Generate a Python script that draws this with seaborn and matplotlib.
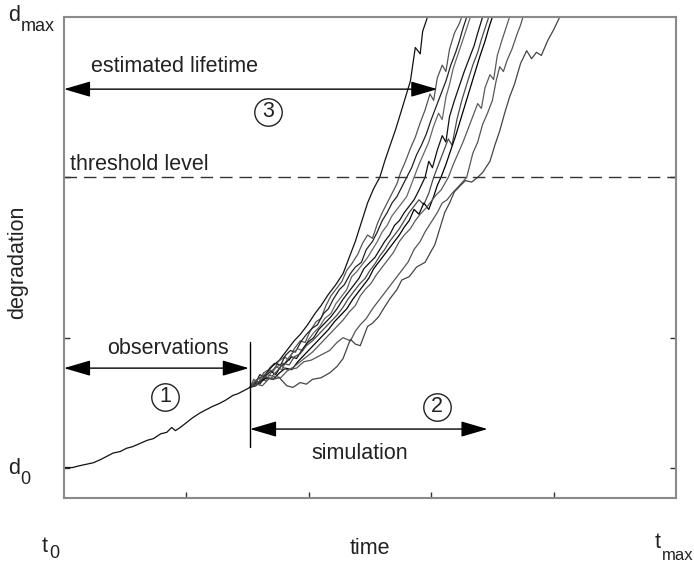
import numpy as np
import pandas as pd
import matplotlib
matplotlib.use("Agg")
import matplotlib.pyplot as plt
import seaborn as sns

# ---------------- data (time in t0..tmax = 0..5, degradation d0..dmax scale 0..3) -------------
obs_t = [0.00, 0.07, 0.12, 0.18, 0.24, 0.30, 0.35, 0.40, 0.46, 0.51, 0.56, 0.62, 0.68, 0.73,
         0.79, 0.84, 0.88, 0.91, 0.95, 1.00, 1.05, 1.11, 1.16, 1.21, 1.27, 1.32, 1.38, 1.42,
         1.47, 1.52]
obs_d = [0.19, 0.19, 0.20, 0.21, 0.22, 0.24, 0.26, 0.28, 0.29, 0.31, 0.32, 0.34, 0.36, 0.37,
         0.40, 0.41, 0.44, 0.42, 0.44, 0.47, 0.50, 0.53, 0.55, 0.57, 0.59, 0.61, 0.64, 0.65,
         0.67, 0.69]

sim1 = [(1.52, 0.69), (1.58, 0.74), (1.63, 0.76), (1.70, 0.82), (1.76, 0.86), (1.82, 0.92),
        (1.88, 0.98), (1.93, 1.02), (1.99, 1.08), (2.05, 1.15), (2.10, 1.20), (2.16, 1.27),
        (2.22, 1.33), (2.28, 1.40), (2.33, 1.50), (2.38, 1.60), (2.43, 1.72), (2.48, 1.84),
        (2.53, 1.93), (2.58, 2.00), (2.62, 2.10), (2.66, 2.19), (2.71, 2.30), (2.75, 2.40),
        (2.79, 2.50), (2.83, 2.60), (2.87, 2.81), (2.91, 2.77), (2.93, 2.91), (2.97, 3.00),
        (2.99, 3.10)]
sim2 = [(1.52, 0.69), (1.55, 0.74), (1.59, 0.72), (1.63, 0.78), (1.67, 0.80), (1.71, 0.79),
        (1.75, 0.85), (1.80, 0.88), (1.84, 0.86), (1.88, 0.93), (1.93, 0.98), (1.97, 0.97),
        (2.01, 1.04), (2.06, 1.10), (2.10, 1.12), (2.14, 1.20), (2.18, 1.26), (2.23, 1.31),
        (2.27, 1.35), (2.31, 1.42), (2.35, 1.46), (2.40, 1.52), (2.44, 1.59), (2.48, 1.64),
        (2.52, 1.62), (2.56, 1.71), (2.60, 1.78), (2.64, 1.84), (2.68, 1.90), (2.72, 1.96),
        (2.75, 2.03), (2.79, 2.10), (2.83, 2.18), (2.87, 2.25), (2.91, 2.34), (2.95, 2.42),
        (2.99, 2.52), (3.02, 2.48), (3.05, 2.62), (3.09, 2.70), (3.12, 2.66), (3.15, 2.80),
        (3.19, 2.90), (3.23, 2.96), (3.26, 3.02), (3.28, 3.10)]
sim3 = [(1.52, 0.69), (1.56, 0.71), (1.60, 0.77), (1.64, 0.75), (1.68, 0.81), (1.72, 0.84),
        (1.77, 0.83), (1.81, 0.89), (1.85, 0.92), (1.89, 0.91), (1.94, 0.98), (1.98, 1.02),
        (2.03, 1.06), (2.07, 1.08), (2.12, 1.15), (2.16, 1.18), (2.20, 1.24), (2.25, 1.30),
        (2.29, 1.33), (2.34, 1.40), (2.38, 1.44), (2.43, 1.47), (2.47, 1.55), (2.52, 1.60),
        (2.56, 1.66), (2.60, 1.73), (2.64, 1.78), (2.68, 1.84), (2.72, 1.88), (2.76, 1.94),
        (2.80, 2.00), (2.84, 2.06), (2.88, 2.14), (2.92, 2.20), (2.96, 2.27), (3.00, 2.36),
        (3.04, 2.44), (3.08, 2.52), (3.12, 2.60), (3.16, 2.70), (3.20, 2.78), (3.23, 2.85),
        (3.26, 2.93), (3.29, 3.00), (3.31, 3.10)]
sim4 = [(1.52, 0.69), (1.57, 0.70), (1.61, 0.74), (1.65, 0.73), (1.69, 0.78), (1.73, 0.82),
        (1.78, 0.80), (1.82, 0.86), (1.86, 0.90), (1.91, 0.93), (1.95, 0.92), (2.00, 0.99),
        (2.04, 1.03), (2.09, 1.07), (2.13, 1.12), (2.18, 1.15), (2.22, 1.21), (2.26, 1.25),
        (2.31, 1.30), (2.35, 1.38), (2.39, 1.41), (2.44, 1.46), (2.48, 1.50), (2.52, 1.55),
        (2.56, 1.60), (2.60, 1.66), (2.64, 1.70), (2.68, 1.76), (2.72, 1.80), (2.76, 1.84),
        (2.80, 1.88), (2.83, 1.94), (2.86, 2.00), (2.90, 2.08), (2.94, 2.15), (2.98, 2.22),
        (3.02, 2.32), (3.06, 2.40), (3.09, 2.36), (3.12, 2.50), (3.15, 2.58), (3.18, 2.68),
        (3.22, 2.77), (3.26, 2.86), (3.29, 2.93), (3.32, 3.00), (3.34, 3.10)]
sim5 = [(1.52, 0.69), (1.56, 0.72), (1.60, 0.71), (1.64, 0.76), (1.69, 0.79), (1.73, 0.77),
        (1.77, 0.82), (1.82, 0.85), (1.86, 0.88), (1.90, 0.87), (1.95, 0.93), (1.99, 0.97),
        (2.04, 1.00), (2.08, 1.05), (2.13, 1.09), (2.18, 1.13), (2.23, 1.18), (2.28, 1.24),
        (2.32, 1.28), (2.37, 1.33), (2.41, 1.37), (2.45, 1.43), (2.50, 1.47), (2.54, 1.50),
        (2.58, 1.55), (2.62, 1.60), (2.66, 1.64), (2.70, 1.70), (2.74, 1.73), (2.78, 1.78),
        (2.82, 1.82), (2.86, 1.86), (2.90, 1.92), (2.95, 2.00), (2.98, 2.10), (3.01, 2.06),
        (3.05, 2.17), (3.09, 2.26), (3.12, 2.22), (3.15, 2.38), (3.19, 2.48), (3.23, 2.57),
        (3.27, 2.66), (3.31, 2.74), (3.35, 2.82), (3.38, 2.90), (3.42, 3.00), (3.44, 3.10)]
sim6 = [(1.52, 0.69), (1.57, 0.73), (1.61, 0.72), (1.66, 0.77), (1.70, 0.76), (1.75, 0.80),
        (1.79, 0.84), (1.84, 0.83), (1.88, 0.88), (1.93, 0.90), (1.98, 0.95), (2.03, 0.98),
        (2.08, 1.02), (2.13, 1.06), (2.18, 1.10), (2.23, 1.14), (2.28, 1.19), (2.32, 1.24),
        (2.37, 1.29), (2.41, 1.33), (2.46, 1.37), (2.50, 1.42), (2.54, 1.46), (2.58, 1.51),
        (2.62, 1.55), (2.66, 1.60), (2.70, 1.64), (2.74, 1.68), (2.78, 1.73), (2.82, 1.78),
        (2.86, 1.82), (2.90, 1.86), (2.94, 1.83), (2.98, 1.90), (3.02, 2.00), (3.06, 2.08),
        (3.10, 2.16), (3.14, 2.24), (3.17, 2.20), (3.21, 2.36), (3.25, 2.48), (3.29, 2.58),
        (3.34, 2.70), (3.38, 2.78), (3.41, 2.86), (3.44, 2.93), (3.47, 3.00), (3.49, 3.10)]
sim7 = [(1.52, 0.69), (1.56, 0.70), (1.61, 0.73), (1.66, 0.75), (1.71, 0.74), (1.76, 0.78),
        (1.81, 0.81), (1.86, 0.80), (1.91, 0.85), (1.96, 0.89), (2.01, 0.93), (2.06, 0.97),
        (2.11, 1.01), (2.16, 1.05), (2.21, 1.10), (2.26, 1.14), (2.31, 1.18), (2.36, 1.24),
        (2.40, 1.28), (2.45, 1.33), (2.49, 1.37), (2.53, 1.43), (2.57, 1.47), (2.62, 1.52),
        (2.66, 1.56), (2.70, 1.60), (2.74, 1.64), (2.78, 1.69), (2.82, 1.73), (2.86, 1.80),
        (2.90, 1.77), (2.94, 1.84), (2.98, 1.80), (3.02, 1.88), (3.05, 1.95), (3.08, 2.00),
        (3.12, 2.08), (3.16, 2.17), (3.20, 2.26), (3.24, 2.36), (3.28, 2.46), (3.32, 2.56),
        (3.36, 2.66), (3.40, 2.76), (3.44, 2.85), (3.47, 2.93), (3.50, 3.00), (3.52, 3.10)]
sim8 = [(1.52, 0.69), (1.57, 0.71), (1.62, 0.70), (1.67, 0.74), (1.72, 0.76), (1.77, 0.75),
        (1.82, 0.79), (1.88, 0.82), (1.93, 0.85), (1.98, 0.88), (2.03, 0.91), (2.08, 0.95),
        (2.13, 0.99), (2.18, 1.03), (2.23, 1.07), (2.28, 1.11), (2.33, 1.16), (2.38, 1.20),
        (2.42, 1.26), (2.46, 1.30), (2.51, 1.34), (2.55, 1.39), (2.60, 1.44), (2.64, 1.48),
        (2.69, 1.53), (2.74, 1.60), (2.78, 1.64), (2.83, 1.68), (2.87, 1.73), (2.91, 1.77),
        (2.96, 1.81), (3.00, 1.85), (3.04, 1.89), (3.08, 1.92), (3.11, 1.96), (3.14, 2.00),
        (3.18, 2.08), (3.22, 2.15), (3.26, 2.22), (3.30, 2.30), (3.34, 2.38), (3.38, 2.46),
        (3.41, 2.43), (3.44, 2.56), (3.48, 2.64), (3.51, 2.61), (3.54, 2.76), (3.58, 2.86),
        (3.61, 2.93), (3.64, 3.00), (3.66, 3.10)]
sim9 = [(1.52, 0.69), (1.56, 0.73), (1.60, 0.75), (1.66, 0.78), (1.71, 0.80), (1.76, 0.83),
        (1.82, 0.80), (1.90, 0.81), (1.96, 0.85), (2.02, 0.86), (2.07, 0.88), (2.12, 0.90),
        (2.17, 0.92), (2.23, 0.97), (2.28, 1.00), (2.34, 0.98), (2.38, 1.04), (2.42, 1.08),
        (2.47, 1.12), (2.52, 1.18), (2.58, 1.24), (2.64, 1.30), (2.70, 1.36), (2.76, 1.42),
        (2.81, 1.47), (2.86, 1.55), (2.91, 1.60), (2.95, 1.66), (3.00, 1.72), (3.05, 1.78),
        (3.09, 1.84), (3.13, 1.86), (3.17, 1.90), (3.22, 1.94), (3.29, 2.00), (3.34, 2.15),
        (3.38, 2.22), (3.42, 2.33), (3.46, 2.40), (3.50, 2.48), (3.53, 2.60), (3.56, 2.69),
        (3.59, 2.66), (3.62, 2.73), (3.66, 2.80), (3.70, 2.89), (3.73, 2.95), (3.75, 3.00),
        (3.77, 3.10)]
sim10 = [(1.52, 0.69), (1.58, 0.71), (1.64, 0.76), (1.70, 0.74), (1.76, 0.75), (1.82, 0.70),
         (1.87, 0.69), (1.93, 0.72), (1.98, 0.71), (2.03, 0.74), (2.10, 0.75), (2.17, 0.78),
         (2.23, 0.82), (2.28, 0.87), (2.34, 0.99), (2.38, 0.96), (2.42, 0.95), (2.48, 1.07),
         (2.52, 1.09), (2.57, 1.13), (2.61, 1.18), (2.66, 1.24), (2.72, 1.30), (2.76, 1.36),
         (2.82, 1.38), (2.88, 1.44), (2.95, 1.47), (3.00, 1.54), (3.03, 1.58), (3.07, 1.68),
         (3.11, 1.78), (3.15, 1.84), (3.19, 1.91), (3.24, 1.95), (3.28, 1.98), (3.33, 1.97),
         (3.38, 2.00), (3.42, 2.03), (3.48, 2.10), (3.52, 2.20), (3.56, 2.29), (3.60, 2.40),
         (3.64, 2.50), (3.68, 2.58), (3.73, 2.71), (3.78, 2.79), (3.82, 2.74), (3.86, 2.78),
         (3.90, 2.76), (3.95, 2.85), (4.00, 2.92), (4.05, 3.00), (4.08, 3.10)]

simulations = [sim1, sim2, sim3, sim4, sim5, sim6, sim7, sim8, sim9, sim10]
threshold = 2.0
x_ticks = [1, 2, 3, 4]
y_ticks = [0.19, 1.0, 2.0]

# ---------------- build table ----------------
rows = []
for i, sim in enumerate(simulations):
    for t, d in sim:
        rows.append({"time": t, "degradation": d, "curve": f"sim{i+1}"})
sim_df = pd.DataFrame(rows)
obs_df = pd.DataFrame({"time": obs_t, "degradation": obs_d})

sns.set_theme(style="white")
plt.rcParams["font.family"] = ["Liberation Sans", "DejaVu Sans"]

fig = plt.figure(figsize=(6.94, 5.62), dpi=100)
ax = fig.add_axes([64 / 694, 1 - 498 / 562, 612 / 694, 481 / 562])

grays = ["#111111", "#555555", "#222222", "#666666", "#111111",
         "#4a4a4a", "#000000", "#5a5a5a", "#555555", "#444444"]
sns.lineplot(data=sim_df, x="time", y="degradation", units="curve", hue="curve",
             estimator=None, sort=False, palette=grays, legend=False, linewidth=0.9, ax=ax)
sns.lineplot(data=obs_df, x="time", y="degradation", estimator=None, sort=False,
             color="#111111", linewidth=0.9, ax=ax)

ax.axhline(threshold, color="#333333", linewidth=1.0, linestyle=(0, (9, 5)))

ax.set_xlim(0, 5)
ax.set_ylim(0, 3)
ax.set_xticks(x_ticks)
ax.set_yticks(y_ticks)
ax.tick_params(direction="in", length=4, width=1, colors="#333333",
               bottom=True, left=True, right=True, top=False,
               labelbottom=False, labelleft=False)
for s in ax.spines.values():
    s.set_color("#8a8a8a")
    s.set_linewidth(1.5)
ax.set_xlabel("")
ax.set_ylabel("")

fs = 15.5
arrow_kw = dict(arrowstyle="<|-|>,head_length=0.75,head_width=0.22", color="black",
                lw=1.0, mutation_scale=22, shrinkA=0, shrinkB=0)

# estimated lifetime
ax.annotate("", xy=(3.05, 2.55), xytext=(0.0, 2.55), arrowprops=arrow_kw)
ax.text(0.90, 2.69, "estimated lifetime", ha="center", va="center", fontsize=fs, color="#222222")
# threshold
ax.text(0.05, 2.08, "threshold level", ha="left", va="center", fontsize=fs, color="#222222")
# observations
ax.annotate("", xy=(1.51, 0.81), xytext=(0.0, 0.81), arrowprops=arrow_kw)
ax.text(0.85, 0.93, "observations", ha="center", va="center", fontsize=fs, color="#222222")
# vertical separator
ax.plot([1.52, 1.52], [0.32, 0.97], color="black", linewidth=1.0)
# simulation
ax.annotate("", xy=(3.46, 0.43), xytext=(1.52, 0.43), arrowprops=arrow_kw)
ax.text(2.42, 0.28, "simulation", ha="center", va="center", fontsize=fs, color="#222222")

# numbered circles
for (cx, cy, lab) in [(0.825, 0.63, "1"), (3.05, 0.57, "2"), (1.67, 2.41, "3")]:
    ax.scatter([cx], [cy], s=390, facecolors="white", edgecolors="#222222",
               linewidths=1.0, zorder=5)
    ax.text(cx, cy, lab, ha="center", va="center", fontsize=fs, color="#222222", zorder=6)

# axis end labels
def lab(x, y, s, size):
    fig.text(x / 694, 1 - y / 562, s, ha="left", va="baseline", fontsize=size, color="#222222")

lab(8, 21, "d", 15.5)
lab(21, 31, "max", 13)
lab(8, 474, "d", 15.5)
lab(20, 484, "0", 13)
lab(42, 552, "t", 15.5)
lab(49, 558, "0", 13)
lab(655, 548, "t", 15.5)
lab(662, 560, "max", 12)

fig.text(370 / 694, 1 - 548 / 562, "time", ha="center", va="center", fontsize=fs, color="#222222")
fig.text(18 / 694, 1 - 262 / 562, "degradation", ha="center", va="center", rotation=90,
         fontsize=fs, color="#222222")

fig.savefig("out.png", dpi=100)
